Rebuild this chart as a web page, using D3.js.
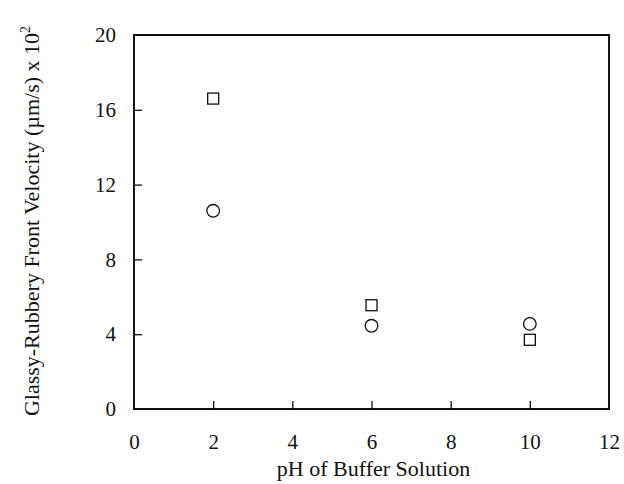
<!DOCTYPE html>
<html>
<head>
<meta charset="utf-8">
<script src="https://cdn.jsdelivr.net/npm/d3@7"></script>
<style>
  html, body { margin: 0; padding: 0; background: #fff; }
  svg { display: block; }
</style>
</head>
<body>
<svg id="chart" width="624" height="484"></svg>
<script>
// pH of buffer solution for each measurement
const phValues = [2, 6, 10];
// Glassy-rubbery front velocity (µm/s × 10²), two sample series
const squareSeries = [16.6, 5.55, 3.7];
const circleSeries = [10.6, 4.45, 4.55];
const xTicks = [0, 2, 4, 6, 8, 10, 12];
const yTicks = [0, 4, 8, 12, 16, 20];

(function () {
  const svg = d3.select("#chart");
  const plotL = 134, plotR = 609, plotT = 35, plotB = 409;
  const serif = '"Liberation Serif"';
  const ink = "#111";

  const x = d3.scaleLinear().domain([0, 12]).range([plotL, plotR]);
  const y = d3.scaleLinear().domain([0, 20]).range([plotB, plotT]);

  // frame
  svg.append("rect")
    .attr("x", plotL).attr("y", plotT)
    .attr("width", plotR - plotL).attr("height", plotB - plotT)
    .attr("fill", "none").attr("stroke", ink).attr("stroke-width", 2);

  // bottom axis, ticks pointing inward
  const xAxis = svg.append("g").attr("transform", `translate(0,${plotB})`)
    .attr("font-family", null)
    .call(d3.axisBottom(x).tickValues(xTicks).tickSizeInner(-8).tickSizeOuter(0).tickPadding(25));
  xAxis.attr("font-family", serif).attr("font-size", 21);
  xAxis.select(".domain").remove();
  xAxis.selectAll(".tick line").attr("stroke", ink).attr("stroke-width", 1.3)
    .filter(d => d === 0 || d === 12).remove();
  xAxis.selectAll(".tick text")
    .style("font-family", serif).style("font-size", "21px").attr("fill", ink);

  // left axis, ticks pointing inward
  const yAxis = svg.append("g").attr("transform", `translate(${plotL},0)`)
    .call(d3.axisLeft(y).tickValues(yTicks).tickSizeInner(-8).tickSizeOuter(0).tickPadding(18));
  yAxis.attr("font-family", serif).attr("font-size", 21);
  yAxis.select(".domain").remove();
  yAxis.selectAll(".tick line").attr("stroke", ink).attr("stroke-width", 1.3)
    .filter(d => d === 0 || d === 20).remove();
  yAxis.selectAll(".tick text")
    .style("font-family", serif).style("font-size", "21px").attr("fill", ink);

  // square markers
  const sq = 11;
  svg.append("g").selectAll("rect")
    .data(phValues.map((p, i) => [p, squareSeries[i]]))
    .join("rect")
    .attr("x", d => x(d[0]) - sq / 2)
    .attr("y", d => y(d[1]) - sq / 2)
    .attr("width", sq).attr("height", sq)
    .attr("fill", "none").attr("stroke", ink).attr("stroke-width", 1.3);

  // circle markers
  svg.append("g").selectAll("circle")
    .data(phValues.map((p, i) => [p, circleSeries[i]]))
    .join("circle")
    .attr("cx", d => x(d[0]))
    .attr("cy", d => y(d[1]))
    .attr("r", 6.3)
    .attr("fill", "none").attr("stroke", ink).attr("stroke-width", 1.3);

  // axis titles
  svg.append("text")
    .attr("x", (plotL + plotR) / 2 + 2).attr("y", 476)
    .attr("text-anchor", "middle").attr("fill", ink)
    .style("font-family", serif).style("font-size", "22px")
    .text("pH of Buffer Solution");

  const yt = svg.append("text")
    .attr("transform", "translate(39,221) rotate(-90)")
    .attr("text-anchor", "middle").attr("fill", ink)
    .style("font-family", serif).style("font-size", "22px");
  yt.append("tspan").text("Glassy-Rubbery Front Velocity (µm/s) x 10");
  yt.append("tspan").attr("dy", -9).style("font-size", "14px").text("2");
})();
</script>
</body>
</html>
